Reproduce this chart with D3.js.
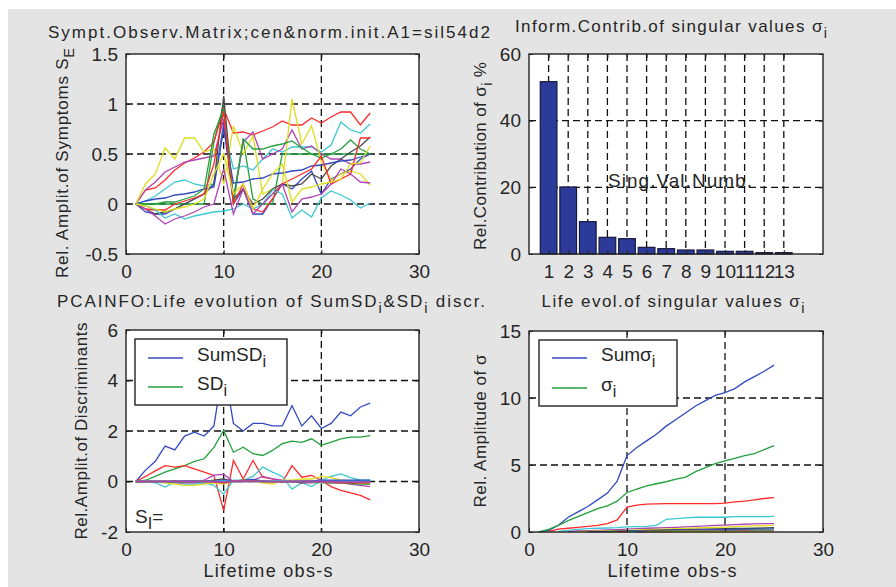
<!DOCTYPE html>
<html>
<head>
<meta charset="utf-8">
<script src="https://cdn.jsdelivr.net/npm/d3@7"></script>
<style>
	body { margin: 0; background: #fff; }
	text { font-family: "Liberation Sans", Arial, Helvetica, sans-serif; fill: #262626; }
</style>
</head>
<body>
<script>
// life time observations (x of the three line plots)
var lifeObs = [1, 2, 3, 4, 5, 6, 7, 8, 9, 10, 11, 12, 13, 14, 15, 16, 17, 18, 19, 20, 21, 22, 23, 24, 25];
var lifeTicks = [0, 10, 20, 30];
var symptomTicks = [-0.5, 0, 0.5, 1, 1.5];
var discrTicks = [-2, 0, 2, 4, 6];
var sigmaTicks = [0, 5, 10, 15];
var contribTicks = [0, 20, 40, 60];

// singular value numbers and their contribution %
var singNums = [1, 2, 3, 4, 5, 6, 7, 8, 9, 10, 11, 12, 13];
var contrib = [51.7, 20.1, 9.7, 5.0, 4.6, 2.0, 1.6, 1.2, 1.2, 0.8, 0.8, 0.4, 0.4];

// symptom observation matrix, one row per symptom
var symptomSeries = [
	[0, -0.08, -0.1, -0.1, -0.05, 0.0, 0.05, 0.1, 0.2, 0.8, 0.0, 0.15, -0.1, -0.1, 0.05, 0.2, 0.15, 0.25, 0.33, 0.1, 0.25, 0.3, 0.35, 0.45, 0.5],
	[0, 0, 0, 0, 0, 0, 0, 0, 0.62, 1.0, 0.0, 0.64, 0.05, 0.0, 0.0, 0.5, 0.5, 0.5, 0.5, 0.5, 0.5, 0.5, 0.5, 0.5, 0.5],
	[0, 0.14, 0.16, 0.24, 0.34, 0.41, 0.46, 0.52, 0.62, 0.95, 0.71, 0.72, 0.69, 0.73, 0.77, 0.83, 0.79, 0.79, 0.86, 0.81, 0.87, 0.92, 0.92, 0.79, 0.91],
	[0, 0.03, 0.08, 0.15, 0.22, 0.24, 0.2, 0.18, 0.2, 0.75, 0.35, 0.38, 0.34, 0.45, 0.55, 0.52, 0.57, 0.57, 0.57, 0.52, 0.59, 0.82, 0.74, 0.71, 0.8],
	[0, 0.14, 0.22, 0.32, 0.37, 0.42, 0.44, 0.46, 0.48, 0.85, 0.05, 0.62, 0.72, 0.45, 0.5, 0.55, 0.74, 0.55, 0.58, 0.5, 0.45, 0.45, 0.4, 0.4, 0.42],
	[0, 0.2, 0.3, 0.56, 0.45, 0.66, 0.66, 0.52, 0.55, 0.2, 0.78, 0.5, 0.68, 0.1, 0.15, 0.2, 1.05, 0.6, 0.78, 0.42, 0.24, 0.3, 0.33, 0.3, 0.19],
	[0, -0.05, -0.1, -0.08, -0.05, 0.0, 0.05, 0.1, 0.2, 1.08, 0.05, 0.15, 0.0, 0.05, 0.15, 0.2, 0.18, 0.2, 0.3, 0.25, 0.38, 0.45, 0.52, 0.58, 0.67],
	[0, 0.03, 0.05, 0.06, 0.09, 0.1, 0.12, 0.15, 0.17, 0.75, 0.21, 0.22, 0.25, 0.26, 0.3, 0.31, 0.33, 0.34, 0.38, 0.39, 0.41, 0.43, 0.44, 0.47, 0.5],
	[0, 0.0, 0.0, 0.02, 0.02, 0.05, 0.08, 0.15, 0.7, 0.95, 0.05, 0.65, 0.55, 0.55, 0.58, 0.6, 0.63, 0.56, 0.5, 0.46, 0.5, 0.55, 0.64, 0.55, 0.5],
	[0, -0.05, -0.06, -0.06, 0.0, 0.03, 0.06, 0.1, 0.4, 0.93, 0.0, 0.2, -0.05, -0.08, 0.05, 0.2, 0.25, 0.3, 0.35, 0.48, 0.2, 0.25, 0.3, 0.66, 0.66],
	[0, -0.02, -0.06, -0.14, -0.1, -0.15, -0.12, -0.1, -0.08, -0.07, -0.05, 0.0, -0.05, 0.0, 0.14, 0.1, -0.14, -0.06, -0.13, 0.06, 0.13, 0.09, 0.04, -0.04, 0.01],
	[0, -0.05, -0.12, -0.2, -0.15, -0.12, -0.08, -0.03, 0.0, 0.35, -0.1, 0.15, -0.1, 0.0, 0.1, 0.2, -0.08, 0.05, 0.07, 0.1, 0.2, 0.35, 0.3, 0.22, 0.21],
	[0, -0.02, -0.05, -0.08, -0.05, -0.03, 0.0, 0.05, 0.3, 0.5, 0.1, 0.2, -0.05, 0.15, 0.3, 0.4, 0.02, 0.15, 0.17, 0.2, 0.22, 0.25, 0.4, 0.41, 0.58]
];

// SumSD, SD1, then the other discriminants
var sumSD = [0, 0.45, 0.8, 1.4, 1.25, 1.8, 1.95, 1.8, 2.2, 4.6, 2.3, 2.0, 2.3, 2.3, 2.2, 2.2, 3.0, 2.2, 2.6, 2.1, 2.3, 2.75, 2.6, 2.95, 3.1];
var sd1 = [0, 0.05, 0.2, 0.37, 0.5, 0.63, 0.8, 0.9, 1.35, 2.02, 1.16, 1.36, 1.1, 1.03, 1.23, 1.5, 1.6, 1.55, 1.69, 1.43, 1.56, 1.69, 1.76, 1.76, 1.82];
var otherSD = [
	[0, 0.2, 0.42, 0.63, 0.57, 0.63, 0.5, 0.37, 0.24, -1.15, 0.83, 0.1, 0.83, 0.17, 0.1, -0.03, 0.63, 0.17, 0.24, 0.04, -0.2, -0.35, -0.45, -0.55, -0.73],
	[0, 0, -0.05, -0.22, -0.02, -0.1, -0.1, -0.05, -0.15, -0.5, 0.05, 0.05, 0.2, 0.57, 0.37, 0.2, -0.3, -0.05, -0.2, 0.05, 0.2, 0.3, 0.15, 0.05, 0.05],
	[0, 0, 0, 0, -0.05, -0.05, -0.05, 0.05, 0.25, 0.28, 0.0, 0.05, 0.05, 0.2, 0.1, 0.05, 0.0, -0.05, -0.05, 0.0, -0.05, -0.05, -0.1, -0.15, -0.2],
	[0, 0, 0, -0.05, -0.1, -0.15, -0.15, -0.1, -0.05, -0.1, 0.0, 0.05, 0.0, -0.05, -0.1, 0.05, 0.05, 0.1, 0.1, 0.2, 0.15, 0.05, 0.0, -0.05, -0.1],
	[0, 0, 0, 0, 0.02, 0.0, 0.0, 0.0, 0.05, 0.1, 0.0, 0.05, 0.05, 0.0, 0.0, 0.0, 0.0, -0.05, 0.0, 0.0, 0.0, 0.0, 0.02, 0.0, 0.0],
	[0, 0, 0, 0, 0, 0.02, 0.02, 0.0, 0.0, 0.05, 0.02, 0.02, 0.08, 0.02, 0.02, 0.0, 0.0, 0.02, 0.02, 0.05, 0.05, 0.05, 0.05, 0.05, 0.05],
	[0, 0, 0, 0, -0.02, -0.02, 0.0, 0.0, 0.0, -0.05, 0.0, 0.0, 0.02, 0.0, 0.0, 0.0, 0.0, 0.0, -0.02, -0.05, -0.05, -0.05, -0.08, -0.1, -0.1],
	[0, 0, 0, 0, 0, 0, 0, 0, -0.02, -0.05, 0.02, 0.02, 0.02, 0, 0, 0, 0, 0, 0, -0.02, -0.02, -0.05, -0.05, -0.05, -0.05],
	[0, 0, 0, 0, 0, 0, 0, 0, 0, 0.02, 0, 0, 0, 0, 0.02, 0.02, 0, 0, 0, 0, 0, 0, 0, 0, 0],
	[0, 0, 0, 0, 0, 0, 0, 0, 0, -0.02, 0, 0, 0, 0, 0, 0, 0, 0, 0, 0, 0, -0.02, -0.02, -0.02, -0.02]
];

// Sum of sigma, sigma1, then the other singular values
var sumSigma = [0, 0.12, 0.5, 1.1, 1.5, 1.9, 2.4, 2.9, 3.8, 5.7, 6.3, 6.8, 7.3, 7.9, 8.4, 8.9, 9.4, 9.8, 10.2, 10.4, 10.7, 11.2, 11.6, 12.0, 12.45];
var sigma1 = [0, 0.2, 0.5, 0.85, 1.15, 1.45, 1.75, 1.95, 2.3, 2.95, 3.2, 3.45, 3.6, 3.75, 3.95, 4.1, 4.5, 4.8, 5.1, 5.3, 5.5, 5.7, 5.85, 6.15, 6.45];
var otherSigma = [
	[null, 0.05, 0.22, 0.28, 0.35, 0.42, 0.5, 0.62, 0.9, 1.85, 2.0, 2.08, 2.1, 2.12, 2.12, 2.12, 2.12, 2.12, 2.12, 2.15, 2.25, 2.3, 2.4, 2.5, 2.57],
	[null, null, 0.05, 0.12, 0.2, 0.25, 0.28, 0.3, 0.33, 0.38, 0.4, 0.42, 0.5, 0.95, 1.0, 1.05, 1.1, 1.1, 1.1, 1.1, 1.15, 1.15, 1.15, 1.15, 1.17],
	[null, null, null, 0.03, 0.08, 0.1, 0.12, 0.15, 0.18, 0.22, 0.25, 0.28, 0.3, 0.32, 0.35, 0.38, 0.42, 0.45, 0.5, 0.52, 0.55, 0.58, 0.6, 0.62, 0.63],
	[null, null, null, null, 0.03, 0.05, 0.07, 0.08, 0.1, 0.12, 0.15, 0.18, 0.2, 0.22, 0.25, 0.27, 0.3, 0.32, 0.35, 0.37, 0.4, 0.42, 0.45, 0.47, 0.5],
	[null, null, null, null, null, 0.02, 0.03, 0.05, 0.07, 0.08, 0.1, 0.12, 0.13, 0.15, 0.17, 0.18, 0.2, 0.22, 0.23, 0.25, 0.26, 0.27, 0.28, 0.3, 0.32],
	[null, null, null, null, null, null, 0.02, 0.03, 0.05, 0.06, 0.08, 0.09, 0.1, 0.12, 0.13, 0.14, 0.15, 0.16, 0.17, 0.18, 0.19, 0.2, 0.21, 0.22, 0.23],
	[null, null, null, null, null, null, null, 0.02, 0.03, 0.04, 0.05, 0.06, 0.07, 0.08, 0.08, 0.09, 0.1, 0.1, 0.11, 0.11, 0.12, 0.12, 0.13, 0.13, 0.14],
	[null, null, null, null, null, null, null, null, 0.02, 0.03, 0.03, 0.04, 0.04, 0.05, 0.05, 0.06, 0.06, 0.06, 0.07, 0.07, 0.07, 0.08, 0.08, 0.08, 0.09],
	[null, null, null, null, null, null, null, null, null, 0.02, 0.02, 0.03, 0.03, 0.03, 0.04, 0.04, 0.04, 0.04, 0.05, 0.05, 0.05, 0.05, 0.06, 0.06, 0.06],
	[null, null, null, null, null, null, null, null, null, null, 0.01, 0.02, 0.02, 0.02, 0.03, 0.03, 0.03, 0.03, 0.03, 0.04, 0.04, 0.04, 0.04, 0.04, 0.05],
	[null, null, null, null, null, null, null, null, null, null, null, 0.01, 0.01, 0.01, 0.02, 0.02, 0.02, 0.02, 0.02, 0.02, 0.03, 0.03, 0.03, 0.03, 0.03]
];

// matlab colour order b g r c m y k
var lineColors = ["#3448c0", "#22a03c", "#ff2a2a", "#3cc8d2", "#b042b4", "#dede1e", "#4a4a4a"];
var ink = "#222";

var width = 896;
var height = 587;

var svg = d3.select("body")
			.append("svg")
			.attr("width", width)
			.attr("height", height);

svg.append("rect")
	.attr("width", width)
	.attr("height", height)
	.attr("fill", "#fff");
svg.append("rect")
	.attr("x", 8)
	.attr("y", 9)
	.attr("width", width - 8)
	.attr("height", height - 9)
	.attr("fill", "#e4e4e4");

// text with "_x" parts as subscripts
function richText(parent, parts, fs) {
	var t = parent.append("text").attr("font-size", fs);
	var shifted = false;
	parts.forEach(function(p) {
		var s = t.append("tspan");
		if (p[0] == "_") {
			s.attr("dy", 6).attr("font-size", fs * 0.85).text(p.slice(1));
			shifted = true;
		} else {
			if (shifted) s.attr("dy", -6);
			shifted = false;
			s.text(p);
		}
	});
	return t;
}

function title(parts, cx, base, len) {
	richText(svg, parts, 17)
		.attr("x", cx)
		.attr("y", base)
		.attr("text-anchor", "middle")
		.attr("textLength", len)
		.attr("lengthAdjust", "spacing");
}

function yLabel(parts, bx, cy, len) {
	richText(svg, parts, 17)
		.attr("transform", "translate(" + bx + "," + cy + ") rotate(-90)")
		.attr("text-anchor", "middle")
		.attr("textLength", len)
		.attr("lengthAdjust", "spacing");
}

function makePanel(box, xDom, yDom, xT, yT, xG, yG) {
	var x = d3.scaleLinear().domain(xDom).range([box.l, box.r]);
	var y = d3.scaleLinear().domain(yDom).range([box.b, box.t]);
	var g = svg.append("g");

	g.append("rect")
		.attr("x", box.l)
		.attr("y", box.t)
		.attr("width", box.r - box.l)
		.attr("height", box.b - box.t)
		.attr("fill", "#fff");

	var grid = g.append("g")
				.attr("stroke", "#111")
				.attr("stroke-width", 1.3)
				.attr("stroke-dasharray", "7,4");
	grid.selectAll("line.v")
		.data(xG)
		.enter()
		.append("line")
		.attr("class", "v")
		.attr("x1", function(d) { return x(d) })
		.attr("x2", function(d) { return x(d) })
		.attr("y1", box.t)
		.attr("y2", box.b);
	grid.selectAll("line.h")
		.data(yG)
		.enter()
		.append("line")
		.attr("class", "h")
		.attr("x1", box.l)
		.attr("x2", box.r)
		.attr("y1", function(d) { return y(d) })
		.attr("y2", function(d) { return y(d) });

	var plot = g.append("g");
	var frame = g.append("g").attr("color", ink);

	var fmt = function(d) { return String(d) };
	frame.append("g")
		.attr("transform", "translate(0," + box.b + ")")
		.call(d3.axisBottom(x).tickValues(xT).tickSize(-4).tickPadding(10.5).tickFormat(fmt));
	frame.append("g")
		.attr("transform", "translate(" + box.l + ",0)")
		.call(d3.axisLeft(y).tickValues(yT).tickSize(-4).tickPadding(8).tickFormat(fmt));
	frame.append("g")
		.attr("transform", "translate(0," + box.t + ")")
		.call(d3.axisTop(x).tickValues(xT).tickSize(-4).tickFormat(""));
	frame.append("g")
		.attr("transform", "translate(" + box.r + ",0)")
		.call(d3.axisRight(y).tickValues(yT).tickSize(-4).tickFormat(""));
	frame.selectAll(".domain").remove();
	frame.selectAll("text")
		.attr("font-size", 19)
		.attr("font-family", "'Liberation Sans', Arial, sans-serif");

	frame.append("rect")
		.attr("x", box.l)
		.attr("y", box.t)
		.attr("width", box.r - box.l)
		.attr("height", box.b - box.t)
		.attr("fill", "none")
		.attr("stroke", ink)
		.attr("stroke-width", 1.4);

	return { x: x, y: y, plot: plot };
}

function drawLines(p, series) {
	var line = d3.line()
				.defined(function(d) { return d[1] != null })
				.x(function(d) { return p.x(d[0]) })
				.y(function(d) { return p.y(d[1]) });
	p.plot.selectAll("path")
		.data(series)
		.enter()
		.append("path")
		.attr("d", function(s) { return line(lifeObs.map(function(o, i) { return [o, s[i]] })) })
		.attr("fill", "none")
		.attr("stroke", function(s, i) { return lineColors[i % 7] })
		.attr("stroke-width", 1.3);
}

function legend(box, items) {
	var g = svg.append("g");
	g.append("rect")
		.attr("x", box.l)
		.attr("y", box.t)
		.attr("width", box.r - box.l)
		.attr("height", box.b - box.t)
		.attr("fill", "#fff")
		.attr("stroke", ink)
		.attr("stroke-width", 1.4);
	items.forEach(function(it, i) {
		g.append("line")
			.attr("x1", box.l + 13)
			.attr("x2", box.l + 48)
			.attr("y1", it.y)
			.attr("y2", it.y)
			.attr("stroke", lineColors[i])
			.attr("stroke-width", 1.3);
		richText(g, it.parts, 19)
			.attr("x", box.l + 62)
			.attr("y", it.y + 3);
	});
}

// symptoms
var p1 = makePanel({ l: 126, r: 419, t: 54, b: 254 }, [0, 30], [-0.5, 1.5],
			lifeTicks, symptomTicks, [10, 20], [0, 0.5, 1]);
drawLines(p1, symptomSeries);
title(["Sympt.Observ.Matrix;cen&norm.init.A1=sil54d2"], 269, 38, 442);
yLabel(["Rel. Amplit.of Symptoms S", "_E"], 68, 163, 230);

// contribution bars
var p2 = makePanel({ l: 529, r: 823, t: 54, b: 254 }, [0, 15], [0, 60],
			singNums, contribTicks, singNums, [20, 40]);
var barW = 0.85;
p2.plot.selectAll("rect")
	.data(contrib)
	.enter()
	.append("rect")
	.attr("x", function(d, i) { return p2.x(singNums[i] - barW / 2) })
	.attr("y", function(d) { return p2.y(d) })
	.attr("width", p2.x(barW) - p2.x(0))
	.attr("height", function(d) { return p2.y(0) - p2.y(d) })
	.attr("fill", "#2c3a9a")
	.attr("stroke", "#15183a")
	.attr("stroke-width", 1.2);
svg.append("text")
	.attr("x", 680)
	.attr("y", 187)
	.attr("font-size", 19)
	.attr("text-anchor", "middle")
	.attr("textLength", 144)
	.attr("lengthAdjust", "spacing")
	.text("Sing.Val.Numb.");
title(["Inform.Contrib.of singular values σ", "_i"], 671, 32, 312);
yLabel(["Rel.Contribution of σ", "_i", " %"], 486, 156, 188);

// discriminants
var p3 = makePanel({ l: 126, r: 419, t: 330, b: 532 }, [0, 30], [-2, 6],
			lifeTicks, discrTicks, [10, 20], [0, 2, 4]);
drawLines(p3, [sumSD, sd1].concat(otherSD));
legend({ l: 135, r: 287, t: 339, b: 405 }, [
	{ parts: ["SumSD", "_i"], y: 358 },
	{ parts: ["SD", "_i"], y: 387 }
]);
richText(svg, ["S", "_I", "="], 19).attr("x", 135).attr("y", 523);
title(["PCAINFO:Life evolution of SumSD", "_i", "&SD", "_i", " discr."], 271, 307, 428);
yLabel(["Rel.Amplit.of Discriminants"], 87, 431, 217);
svg.append("text")
	.attr("x", 268)
	.attr("y", 577)
	.attr("font-size", 18)
	.attr("text-anchor", "middle")
	.attr("textLength", 129)
	.attr("lengthAdjust", "spacing")
	.text("Lifetime obs-s");

// singular values
var p4 = makePanel({ l: 529, r: 823, t: 331, b: 532 }, [0, 30], [0, 15],
			lifeTicks, sigmaTicks, [10, 20], [5, 10]);
drawLines(p4, [sumSigma, sigma1].concat(otherSigma));
legend({ l: 539, r: 677, t: 340, b: 406 }, [
	{ parts: ["Sumσ", "_i"], y: 358 },
	{ parts: ["σ", "_i"], y: 388 }
]);
title(["Life evol.of singular values σ", "_i"], 673, 307, 263);
yLabel(["Rel. Amplitude of σ"], 486, 431, 153);
svg.append("text")
	.attr("x", 672)
	.attr("y", 577)
	.attr("font-size", 18)
	.attr("text-anchor", "middle")
	.attr("textLength", 129)
	.attr("lengthAdjust", "spacing")
	.text("Lifetime obs-s");
</script>
</body>
</html>
